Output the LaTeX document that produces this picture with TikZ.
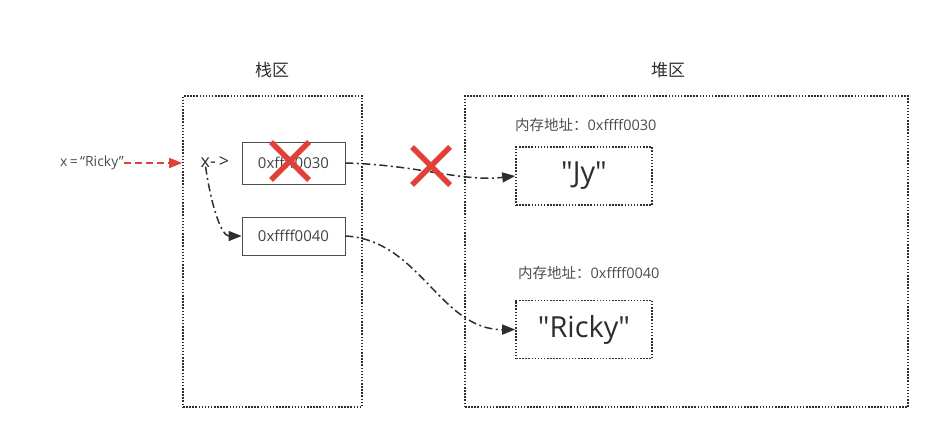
\documentclass[tikz,border=0pt]{standalone}
\usepackage{fontspec}
\setmainfont{Open Sans}
\newfontfamily\cjk{Noto Sans CJK SC}
\usetikzlibrary{arrows.meta,calc}
\definecolor{ink}{HTML}{2E2E2E}
\definecolor{xred}{HTML}{E0403A}
\newcommand{\sq}{\XeTeXglyph\XeTeXcharglyph"22\relax}
\tikzset{
  area/.style={draw=ink, line width=1.6pt, dash pattern=on 1.5pt off 1.6pt},
  cell/.style={draw=ink!85, line width=0.8pt, minimum width=103pt, minimum height=40pt, inner sep=0pt, font=\fontsize{15}{17}\selectfont, text=ink!90},
  obj/.style={draw=ink, line width=1.6pt, dash pattern=on 1.5pt off 1.6pt, minimum width=136pt, minimum height=58pt, inner sep=0pt, font=\fontsize{29}{33}\selectfont, text=ink},
  lbl/.style={font=\fontsize{14.5}{16}\selectfont, text=ink!85, inner sep=0pt},
  title/.style={font=\cjk\fontsize{17}{20}\selectfont, text=ink, inner sep=0pt},
  ptr/.style={draw=ink, line width=1.5pt, dash pattern=on 8pt off 3.5pt on 2pt off 3.5pt, -{Triangle[length=13pt,width=10pt]}},
  redx/.style={draw=xred, line width=5.5pt},
}
\begin{document}
\begin{tikzpicture}[x=1pt,y=-1pt]
\useasboundingbox (0,0) rectangle (948,423);
% regions
\node[area, minimum width=179pt, minimum height=311pt, inner sep=0pt] (stack) at (272.5,251.5) {};
\node[area, minimum width=443pt, minimum height=311pt, inner sep=0pt] (heap) at (686.5,251.5) {};
\node[title] (tstack) at (272,70) {栈区};
\node[title] (theap) at (668,70) {堆区};
% stack cells
\node[cell, minimum height=42pt] (c1) at (293.5,163) {0xffff0030};
\node[cell, minimum height=38pt] (c2) at (293.5,236) {0xffff0040};
\node[font=\fontsize{18}{20}\selectfont, text=ink, inner sep=0pt] (xp) at (215,162) {x-\,>};
\node[lbl, font=\fontsize{14}{15}\selectfont] (xr) at (92,163) {x\,=\,“Ricky”};
% heap objects
\node[obj] (jy) at (584,176) {\sq Jy\sq};
\node[obj] (ricky) at (584,329.5) {\sq Ricky\sq};
\node[lbl, anchor=west] (l1) at (515,125) {{\cjk 内存地址：}0xffff0030};
\node[lbl, anchor=west] (l2) at (518,273) {{\cjk 内存地址：}0xffff0040};
% connectors
\draw[draw=xred, line width=1.6pt, dash pattern=on 7pt off 4pt, -{Triangle[length=13pt,width=10pt]}] (xr.east) -- (stack.west |- xr.east);
\coordinate (xs) at ($(xp.south west)+(5pt,1pt)$);
\draw[ptr] (xs) .. controls (212,210) and (222,236) .. (c2.west);
\draw[ptr] (c1.east) .. controls (420,165) and (460,182) .. (jy.west);
\draw[ptr] (c2.east) .. controls (420,240) and (440,330) .. (ricky.west);
% red crosses
\coordinate (x1) at (290,161);
\coordinate (x2) at (431,166);
\draw[redx] ($(x1)+(-19,-19)$) -- ($(x1)+(19,19)$) ($(x1)+(19,-19)$) -- ($(x1)+(-19,19)$);
\draw[redx] ($(x2)+(-19,-19)$) -- ($(x2)+(19,19)$) ($(x2)+(19,-19)$) -- ($(x2)+(-19,19)$);
\end{tikzpicture}
\end{document}
